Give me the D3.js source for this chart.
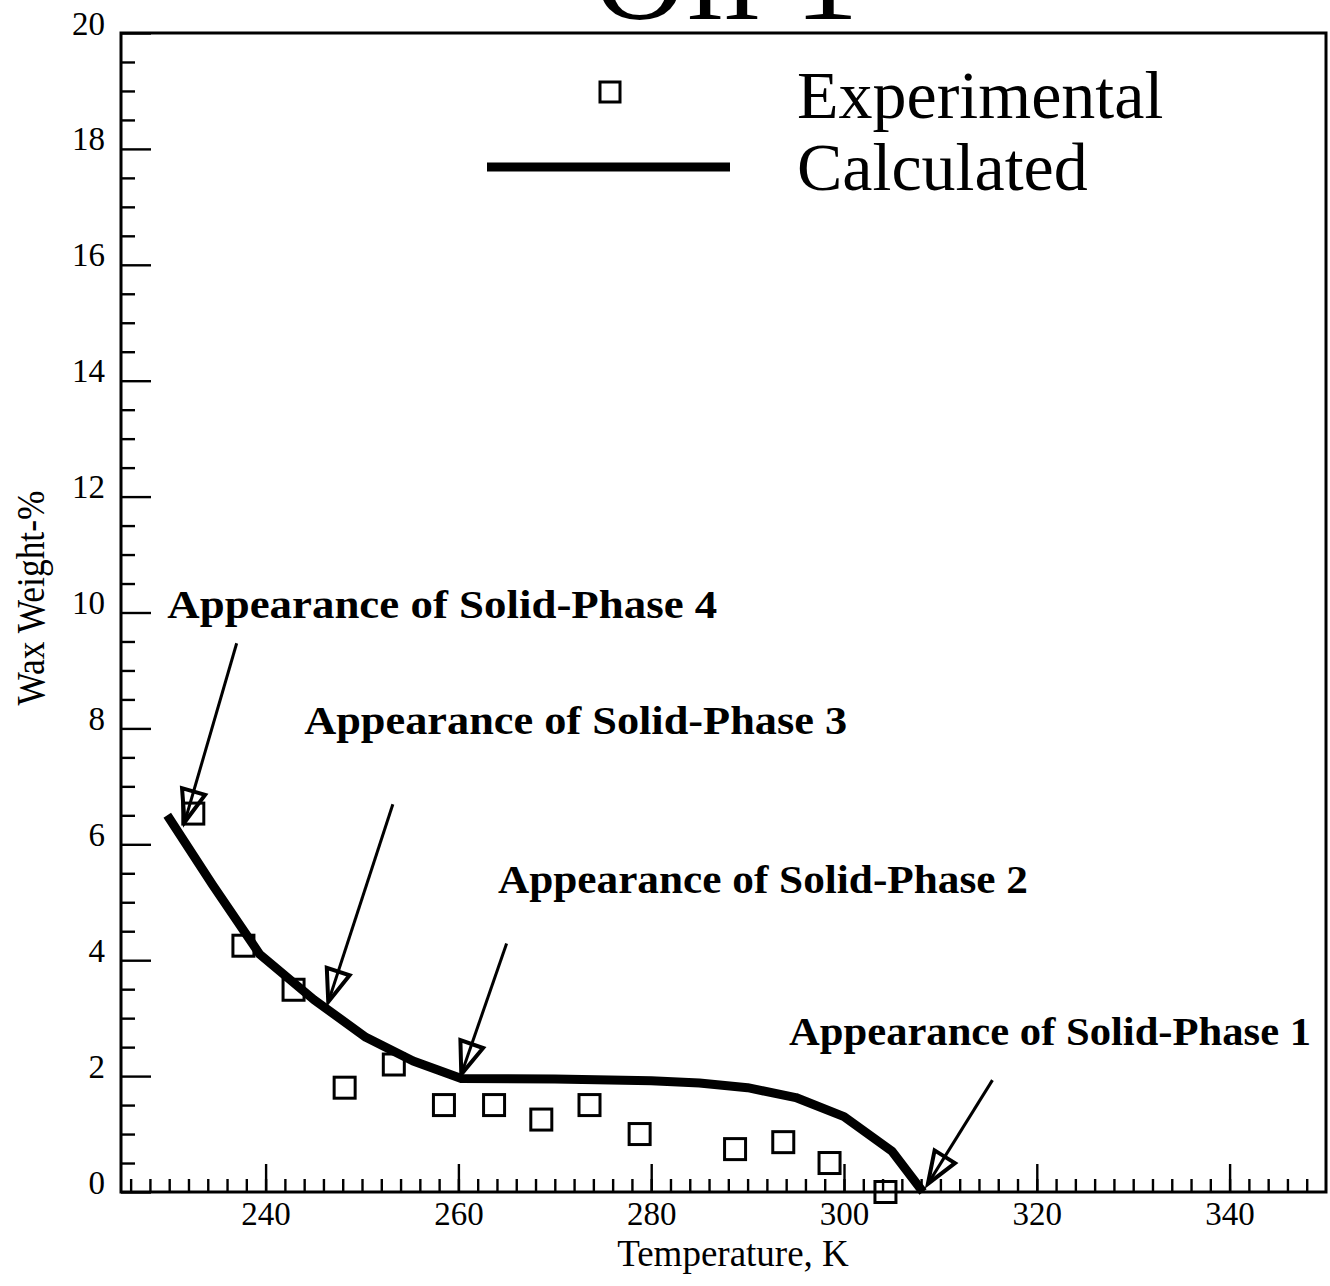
<!DOCTYPE html>
<html>
<head>
<meta charset="utf-8">
<script src="https://cdn.jsdelivr.net/npm/d3@7"></script>
<style>
body{margin:0;background:#fff;}
</style>
</head>
<body>
<svg width="1330" height="1286"></svg>
<script>
// dane z wykresu
var expT = [232.5, 237.7, 242.9, 248.2, 253.3, 258.5, 263.7, 268.6, 273.6, 278.8, 288.7, 293.7, 298.5, 304.3];
var expW = [6.53, 4.25, 3.49, 1.80, 2.20, 1.50, 1.50, 1.25, 1.50, 1.00, 0.74, 0.86, 0.50, 0.0];
var calcT = [229.8, 234.5, 239.4, 245, 250.4, 255.3, 260.3, 270, 280, 285, 290, 295, 300, 305, 308.2];
var calcW = [6.5, 5.3, 4.1, 3.32, 2.67, 2.26, 1.96, 1.95, 1.92, 1.88, 1.8, 1.63, 1.3, 0.7, 0];
var xTicks = [240, 260, 280, 300, 320, 340];
var yTicks = [0, 2, 4, 6, 8, 10, 12, 14, 16, 18, 20];
var legendLabels = ["Experimental", "Calculated"];
var napisy = ["Appearance of Solid-Phase 4", "Appearance of Solid-Phase 3", "Appearance of Solid-Phase 2", "Appearance of Solid-Phase 1"];
var napisT = [229.8, 244.0, 264.1, 294.3];
var napisW = [9.9, 7.91, 5.16, 2.53];
var strzalkaOdT = [237.0, 253.2, 265.0, 315.4];
var strzalkaOdW = [9.47, 6.69, 4.29, 1.93];
var strzalkaDoT = [231.6, 246.5, 260.3, 308.7];
var strzalkaDoW = [6.38, 3.28, 2.03, 0.14];

var svg = d3.select("svg");
var font = "'Liberation Serif','Times New Roman',serif";

var x = d3.scaleLinear().domain([225, 350]).range([121, 1326]);
var y = d3.scaleLinear().domain([0, 20]).range([1192, 33]);

svg.append("rect").attr("width", 1330).attr("height", 1286).attr("fill", "#fff");

// tytul (uciety u gory, tak jak na oryginale)
svg.append("text")
	.attr("x", 726).attr("y", 19)
	.attr("text-anchor", "middle")
	.attr("font-family", font)
	.attr("font-size", 128)
	.attr("textLength", 265)
	.attr("lengthAdjust", "spacing")
	.text("Oil 1");

// ramka
svg.append("rect")
	.attr("x", x(225)).attr("y", y(20))
	.attr("width", x(350) - x(225)).attr("height", y(0) - y(20))
	.attr("fill", "none").attr("stroke", "#000").attr("stroke-width", 3);

// os X - kreski co 2
var xMinor = d3.range(226, 350, 2);
svg.append("g")
	.attr("transform", "translate(0," + y(0) + ")")
	.call(d3.axisBottom(x).tickValues(xMinor).tickSize(-13).tickFormat(""))
	.call(g => g.select(".domain").remove())
	.call(g => g.selectAll("line").attr("stroke-width", 2.4));
svg.append("g")
	.attr("transform", "translate(0," + y(0) + ")")
	.call(d3.axisBottom(x).tickValues(xTicks).tickSize(-28).tickFormat(d3.format("d")))
	.call(g => g.select(".domain").remove())
	.call(g => g.selectAll("line").attr("stroke-width", 2.4))
	.call(g => g.selectAll("text").attr("font-family", font).attr("font-size", 33).attr("fill", "#000").attr("dy", 0).attr("y", 33));

// os Y - kreski co 0.5
var yMinor = d3.range(0.5, 20, 0.5).filter(d => d % 2 != 0);
svg.append("g")
	.attr("transform", "translate(" + x(225) + ",0)")
	.call(d3.axisLeft(y).tickValues(yMinor).tickSize(-14).tickFormat(""))
	.call(g => g.select(".domain").remove())
	.call(g => g.selectAll("line").attr("stroke-width", 2.4));
svg.append("g")
	.attr("transform", "translate(" + x(225) + ",0)")
	.call(d3.axisLeft(y).tickValues(yTicks).tickSize(-30).tickFormat(d3.format("d")))
	.call(g => g.select(".domain").remove())
	.call(g => g.selectAll("line").attr("stroke-width", 2.4))
	.call(g => g.selectAll("text").attr("font-family", font).attr("font-size", 33).attr("fill", "#000").attr("dy", 0).attr("x", -16).attr("y", 1));

// podpisy osi
svg.append("text")
	.attr("x", 733).attr("y", 1266)
	.attr("text-anchor", "middle")
	.attr("font-family", font).attr("font-size", 37)
	.text("Temperature, K");
svg.append("text")
	.attr("transform", "translate(44,598) rotate(-90)")
	.attr("text-anchor", "middle")
	.attr("font-family", font).attr("font-size", 39)
	.attr("textLength", 215).attr("lengthAdjust", "spacingAndGlyphs")
	.text("Wax Weight-%");

// linia obliczona
var linia = d3.line().x((d, i) => x(calcT[i])).y((d, i) => y(calcW[i]));
svg.append("path")
	.datum(calcT)
	.attr("d", linia)
	.attr("fill", "none").attr("stroke", "#000")
	.attr("stroke-width", 9).attr("stroke-linejoin", "round");

// punkty eksperymentalne
svg.selectAll(".kwadrat")
	.data(expT)
	.enter()
	.append("rect")
	.attr("class", "kwadrat")
	.attr("x", (d, i) => x(d) - 10.5)
	.attr("y", (d, i) => y(expW[i]) - 10.5)
	.attr("width", 21).attr("height", 21)
	.attr("fill", "none").attr("stroke", "#000").attr("stroke-width", 3);

// legenda
svg.append("rect")
	.attr("x", 600).attr("y", 82).attr("width", 20).attr("height", 20)
	.attr("fill", "none").attr("stroke", "#000").attr("stroke-width", 3);
svg.append("line")
	.attr("x1", 487).attr("x2", 730).attr("y1", 167).attr("y2", 167)
	.attr("stroke", "#000").attr("stroke-width", 9);
svg.selectAll(".legenda")
	.data(legendLabels)
	.enter()
	.append("text")
	.attr("class", "legenda")
	.attr("x", 797)
	.attr("y", (d, i) => 118 + i * 72)
	.attr("font-family", font).attr("font-size", 68)
	.text(d => d);

// napisy i strzalki
var dlugosci = [550, 543, 530, 522];
for (let i = 0; i < napisy.length; i++) {
	svg.append("text")
		.attr("x", x(napisT[i])).attr("y", y(napisW[i]))
		.attr("font-family", font).attr("font-weight", "bold").attr("font-size", 41)
		.attr("textLength", dlugosci[i]).attr("lengthAdjust", "spacingAndGlyphs")
		.text(napisy[i]);

	var x1 = x(strzalkaOdT[i]), y1 = y(strzalkaOdW[i]);
	var x2 = x(strzalkaDoT[i]), y2 = y(strzalkaDoW[i]);
	svg.append("line")
		.attr("x1", x1).attr("y1", y1).attr("x2", x2).attr("y2", y2)
		.attr("stroke", "#000").attr("stroke-width", 3);
	// grot
	var dl = Math.hypot(x2 - x1, y2 - y1);
	var ux = (x2 - x1) / dl, uy = (y2 - y1) / dl;
	var bx = x2 - ux * 32, by = y2 - uy * 32;
	var pts = [[x2, y2], [bx - uy * 12, by + ux * 12], [bx + uy * 12, by - ux * 12]];
	svg.append("path")
		.attr("d", "M" + pts.join("L") + "Z")
		.attr("fill", "none").attr("stroke", "#000").attr("stroke-width", 4)
		.attr("stroke-linejoin", "miter");
}
</script>
</body>
</html>
